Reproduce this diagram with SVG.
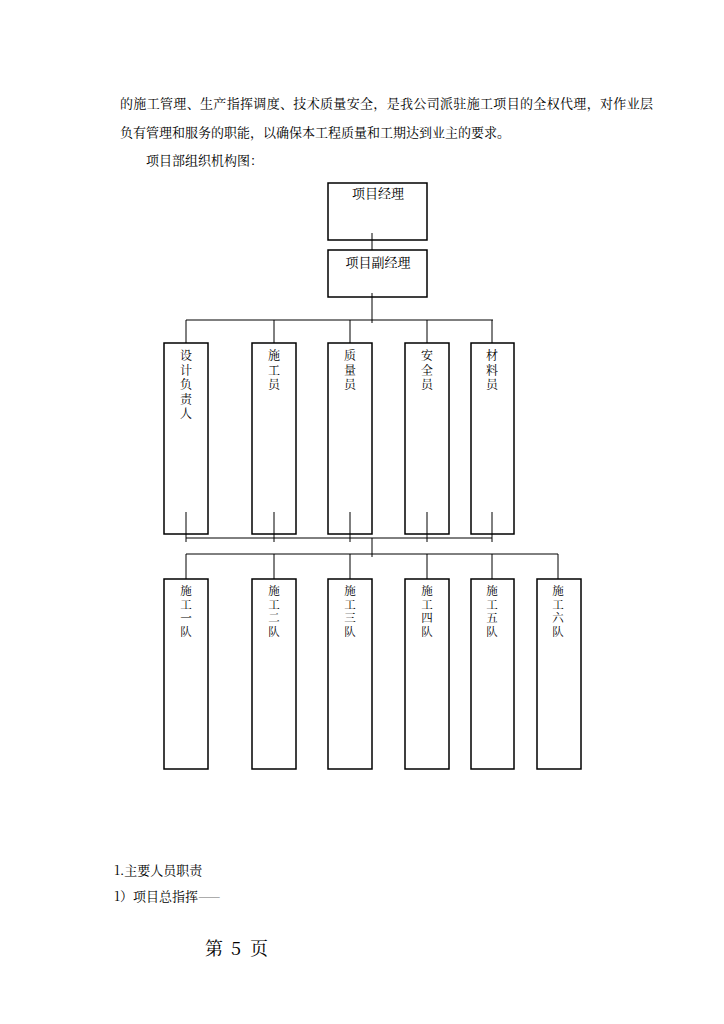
<svg xmlns="http://www.w3.org/2000/svg" width="724" height="1024" viewBox="0 0 724 1024">
<style>
.t{font-family:"Noto Serif CJK SC","Noto Sans CJK SC","Liberation Serif",serif;font-size:13px;fill:#000}
.c{text-anchor:middle}
.m{font-size:12px}
.s{font-size:11.5px}
.b{fill:#fff;stroke:#000;stroke-width:1.5}
.l{stroke:#000;stroke-width:1;fill:none}
.p{font-family:"Noto Serif CJK SC","Noto Sans CJK SC","Liberation Serif",serif;font-size:18px;fill:#000}
</style>
<rect width="724" height="1024" fill="#fff"/>
<text class="t" x="120" y="108" textLength="533">的施工管理、生产指挥调度、技术质量安全，是我公司派驻施工项目的全权代理，对作业层</text>
<text class="t" x="120" y="137">负有管理和服务的职能，以确保本工程质量和工期达到业主的要求。</text>
<text class="t" x="146" y="165">项目部组织机构图：</text>

<g id="n-mgr"><rect class="b" x="328" y="183" width="99" height="57"/><text class="t c" x="378" y="198">项目经理</text></g>
<g id="n-dep"><rect class="b" x="328" y="250" width="99" height="47"/><text class="t c" x="378" y="267">项目副经理</text></g>

<g id="n-design"><rect class="b" x="164" y="343" width="44" height="191"/><text class="t c m" x="186" y="360">设</text><text class="t c m" x="186" y="374.5">计</text><text class="t c m" x="186" y="389">负</text><text class="t c m" x="186" y="403.5">责</text><text class="t c m" x="186" y="418">人</text></g>
<g id="n-sg"><rect class="b" x="252" y="343" width="44" height="191"/><text class="t c m" x="274" y="360">施</text><text class="t c m" x="274" y="374.5">工</text><text class="t c m" x="274" y="389">员</text></g>
<g id="n-zl"><rect class="b" x="328" y="343" width="44" height="191"/><text class="t c m" x="350" y="360">质</text><text class="t c m" x="350" y="374.5">量</text><text class="t c m" x="350" y="389">员</text></g>
<g id="n-aq"><rect class="b" x="405" y="343" width="44" height="191"/><text class="t c m" x="427" y="360">安</text><text class="t c m" x="427" y="374.5">全</text><text class="t c m" x="427" y="389">员</text></g>
<g id="n-cl"><rect class="b" x="471" y="343" width="43" height="191"/><text class="t c m" x="492" y="360">材</text><text class="t c m" x="492" y="374.5">料</text><text class="t c m" x="492" y="389">员</text></g>

<g id="n-d1"><rect class="b" x="164" y="579" width="44" height="190"/><text class="t c s" x="186" y="595">施</text><text class="t c s" x="186" y="608.5">工</text><text class="t c s" x="186" y="622">一</text><text class="t c s" x="186" y="635.5">队</text></g>
<g id="n-d2"><rect class="b" x="252" y="579" width="44" height="190"/><text class="t c s" x="274" y="595">施</text><text class="t c s" x="274" y="608.5">工</text><text class="t c s" x="274" y="622">二</text><text class="t c s" x="274" y="635.5">队</text></g>
<g id="n-d3"><rect class="b" x="328" y="579" width="44" height="190"/><text class="t c s" x="350" y="595">施</text><text class="t c s" x="350" y="608.5">工</text><text class="t c s" x="350" y="622">三</text><text class="t c s" x="350" y="635.5">队</text></g>
<g id="n-d4"><rect class="b" x="405" y="579" width="44" height="190"/><text class="t c s" x="427" y="595">施</text><text class="t c s" x="427" y="608.5">工</text><text class="t c s" x="427" y="622">四</text><text class="t c s" x="427" y="635.5">队</text></g>
<g id="n-d5"><rect class="b" x="471" y="579" width="43" height="190"/><text class="t c s" x="492" y="595">施</text><text class="t c s" x="492" y="608.5">工</text><text class="t c s" x="492" y="622">五</text><text class="t c s" x="492" y="635.5">队</text></g>
<g id="n-d6"><rect class="b" x="537" y="579" width="44" height="190"/><text class="t c s" x="558" y="595">施</text><text class="t c s" x="558" y="608.5">工</text><text class="t c s" x="558" y="622">六</text><text class="t c s" x="558" y="635.5">队</text></g>

<g id="connectors" class="l">
<path d="M372 233V250M372 293V323M186 320H493M186 320V343M274 320V343M350 320V343M427 320V343M492 320V343"/>
<path d="M186 512V542M274 512V542M350 512V542M427 512V542M492 512V542M186 538H492M372 538V557M186 554H558"/>
<path d="M186 554V579M274 554V579M350 554V579M427 554V579M492 554V579M558 554V579"/>
</g>

<text class="t" x="114" y="875">1.主要人员职责</text>
<text class="t" x="114" y="901">1）项目总指挥<tspan fill="#999">——</tspan></text>
<text class="p" x="205" y="955">第</text>
<text class="p" x="231" y="955">5</text>
<text class="p" x="250" y="955">页</text>
</svg>
